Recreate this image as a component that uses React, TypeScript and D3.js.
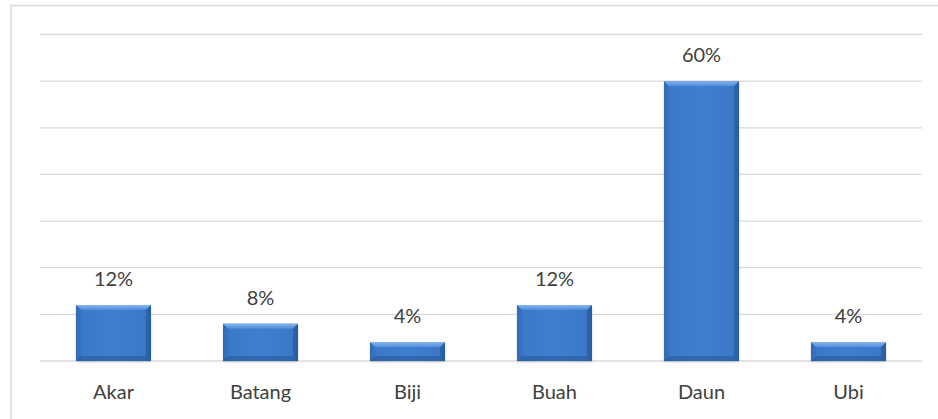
import React from "react";
import * as d3 from "d3";

const categories = ["Akar", "Batang", "Biji", "Buah", "Daun", "Ubi"];
const values = [12, 8, 4, 12, 60, 4];
const valueLabels = ["12%", "8%", "4%", "12%", "60%", "4%"];
const yTicks = [0, 10, 20, 30, 40, 50, 60, 70];

const W = 938;
const H = 419;
const plot = { left: 40, right: 922, top: 34.5, bottom: 361 };

export default function App() {
  const x = d3
    .scaleBand<string>()
    .domain(categories)
    .range([plot.left, plot.right])
    .paddingInner(0.49)
    .paddingOuter(0.245);
  const y = d3.scaleLinear().domain([0, 70]).range([plot.bottom, plot.top]);
  const font = "Lato, 'Liberation Sans', sans-serif";

  return (
    <svg
      width={W}
      height={H}
      style={{ position: "absolute", left: 0, top: 0, background: "#fff" }}
    >
      <defs>
        <linearGradient id="barH" x1="0" x2="1" y1="0" y2="0">
          <stop offset="0" stopColor="#3068b2" />
          <stop offset="0.08" stopColor="#3a78c8" />
          <stop offset="0.5" stopColor="#3f7fd0" />
          <stop offset="0.92" stopColor="#3a78c8" />
          <stop offset="1" stopColor="#2c62aa" />
        </linearGradient>
        <linearGradient id="bevelTop" x1="0" x2="0" y1="0" y2="1">
          <stop offset="0" stopColor="#86b6ee" />
          <stop offset="1" stopColor="#4d8cda" />
        </linearGradient>
        <filter id="sh" x="-10%" y="-10%" width="120%" height="130%">
          <feDropShadow dx="0" dy="1" stdDeviation="1" floodColor="#000" floodOpacity="0.2" />
        </filter>
      </defs>
      <rect x={11} y={5.5} width={W} height={H} fill="none" stroke="#d9d9d9" strokeWidth={1.5} />
      {yTicks.map((t) => (
        <line
          key={t}
          x1={plot.left}
          x2={plot.right}
          y1={y(t)}
          y2={y(t)}
          stroke="#d9d9d9"
          strokeWidth={1.3}
        />
      ))}
      {categories.map((c, i) => {
        const x0 = x(c)!;
        const bw = x.bandwidth();
        const y0 = y(values[i]);
        const h = plot.bottom - y0;
        const b = Math.min(5, h / 3);
        return (
          <g key={c}>
            <rect x={x0} y={y0} width={bw} height={h} fill="url(#barH)" filter="url(#sh)" />
            <polygon
              points={`${x0},${y0} ${x0 + bw},${y0} ${x0 + bw - b},${y0 + b} ${x0 + b},${y0 + b}`}
              fill="url(#bevelTop)"
            />
            <polygon
              points={`${x0},${y0} ${x0 + b},${y0 + b} ${x0 + b},${plot.bottom - b} ${x0},${plot.bottom}`}
              fill="#3470bd"
              opacity={0.5}
            />
            <polygon
              points={`${x0 + bw},${y0} ${x0 + bw - b},${y0 + b} ${x0 + bw - b},${plot.bottom - b} ${x0 + bw},${plot.bottom}`}
              fill="#24548f"
              opacity={0.45}
            />
            <polygon
              points={`${x0},${plot.bottom} ${x0 + b},${plot.bottom - b} ${x0 + bw - b},${plot.bottom - b} ${x0 + bw},${plot.bottom}`}
              fill="#24548f"
              opacity={0.5}
            />
            <text
              x={x0 + bw / 2}
              y={y0 - 19}
              textAnchor="middle"
              fontFamily={font}
              fontSize={20}
              fill="#404040"
            >
              {valueLabels[i]}
            </text>
            <text
              x={x0 + bw / 2}
              y={399}
              textAnchor="middle"
              fontFamily={font}
              fontSize={20}
              fill="#404040"
            >
              {c}
            </text>
          </g>
        );
      })}
    </svg>
  );
}
